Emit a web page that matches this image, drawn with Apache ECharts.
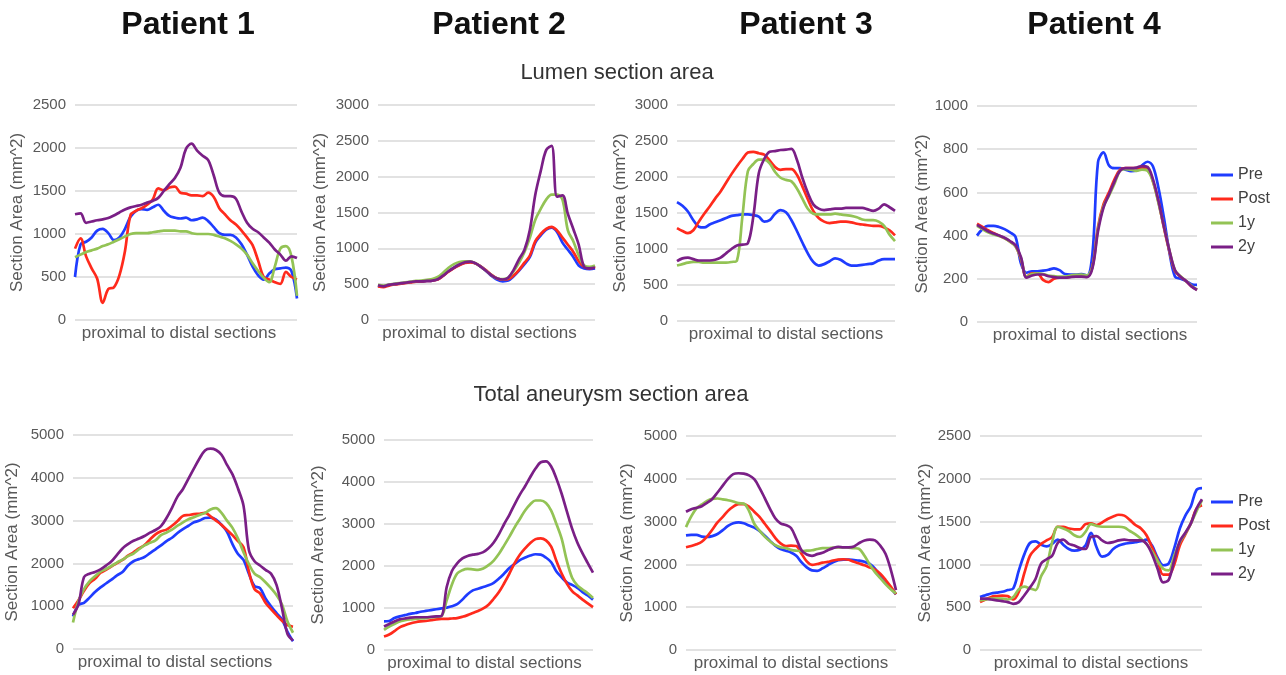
<!DOCTYPE html>
<html>
<head>
<meta charset="utf-8">
<script src="https://cdn.jsdelivr.net/npm/echarts@6/dist/echarts.min.js"></script>
<style>
  html, body { margin: 0; padding: 0; background: #ffffff; }
  #chart { width: 1286px; height: 675px; }
</style>
</head>
<body>
<div id="chart"></div>
<script>
// Section index along the vessel, proximal (1) to distal (41)
const sections = [1,2,3,4,5,6,7,8,9,10,11,12,13,14,15,16,17,18,19,20,21,22,23,24,25,26,27,28,29,30,31,32,33,34,35,36,37,38,39,40,41];

const seriesNames = ['Pre', 'Post', '1y', '2y'];
const seriesColors = ['#1f3cff', '#ff2a1c', '#93c355', '#7a1f86'];
const patientTitles = ['Patient 1', 'Patient 2', 'Patient 3', 'Patient 4'];
const rowTitles = ['Lumen section area', 'Total aneurysm section area'];
const yAxisTitle = 'Section Area (mm^2)';
const xAxisTitle = 'proximal to distal sections';

// y-axis ranges (max, tick step) per patient
const lumenMax = [2500, 3000, 3000, 1000];
const lumenStep = [500, 500, 500, 200];
const totalMax = [5000, 5000, 5000, 2500];
const totalStep = [1000, 1000, 1000, 500];

// ---- Lumen section area (mm^2) ----
const p1LumenPre  = [500,880,910,960,1040,1060,1010,930,960,1060,1200,1270,1290,1280,1310,1340,1270,1210,1190,1180,1190,1160,1170,1190,1150,1080,1010,990,990,960,880,760,620,520,470,540,590,600,610,570,250];
const p1LumenPost = [830,950,740,600,480,200,360,380,520,800,1220,1270,1300,1340,1400,1530,1510,1540,1550,1480,1470,1450,1450,1440,1480,1430,1300,1230,1160,1110,1040,960,870,690,500,470,440,420,560,500,470];
const p1Lumen1y   = [730,760,790,810,830,860,880,910,940,970,1000,1010,1010,1010,1020,1030,1040,1040,1040,1030,1030,1010,1000,1000,1000,990,970,950,920,880,830,760,660,570,490,440,620,830,860,740,280];
const p1Lumen2y   = [1230,1240,1130,1145,1160,1170,1185,1215,1250,1285,1310,1325,1340,1365,1385,1420,1500,1580,1650,1770,1990,2050,1970,1910,1860,1680,1480,1440,1440,1410,1260,1130,1060,1020,960,900,820,760,690,740,720];

const p2LumenPre  = [480,470,490,500,510,520,530,540,540,545,550,570,620,680,730,770,800,810,790,740,680,610,560,540,550,610,690,780,880,1080,1180,1260,1290,1230,1080,980,880,760,720,710,720];
const p2LumenPost = [470,460,480,495,505,515,525,535,540,545,550,565,615,675,725,765,795,805,790,745,690,625,580,565,570,620,700,800,900,1100,1200,1270,1300,1250,1150,1050,950,820,740,720,750];
const p2Lumen1y   = [490,480,495,505,515,525,535,545,550,560,570,600,660,730,780,810,820,820,790,740,680,620,580,570,590,680,800,950,1150,1400,1550,1680,1750,1750,1680,1250,1100,900,760,740,760];
const p2Lumen2y   = [485,470,490,500,510,520,530,540,540,545,550,570,620,680,730,775,805,815,790,740,680,620,580,565,590,700,850,980,1260,1750,2080,2370,2430,1720,1740,1480,1270,1050,740,720,730];

const p3LumenPre  = [1650,1600,1520,1400,1310,1300,1340,1370,1400,1430,1460,1470,1480,1480,1470,1450,1380,1400,1490,1540,1510,1400,1250,1090,940,820,770,790,830,870,850,800,770,770,780,790,800,840,860,860,860];
const p3LumenPost = [1290,1250,1220,1260,1380,1490,1590,1700,1800,1920,2040,2150,2250,2340,2350,2330,2310,2230,2140,2100,2110,2110,2030,1870,1690,1530,1430,1380,1360,1370,1380,1380,1370,1350,1340,1330,1320,1320,1300,1260,1190];
const p3Lumen1y   = [770,790,810,820,820,810,810,810,810,810,820,840,1450,2080,2180,2240,2240,2190,2070,1990,1960,1940,1840,1700,1560,1490,1480,1480,1480,1490,1480,1470,1460,1440,1410,1400,1400,1380,1320,1200,1110];
const p3Lumen2y   = [830,870,880,860,840,840,840,850,880,940,1000,1050,1060,1080,1450,2050,2250,2350,2360,2375,2380,2390,2240,1990,1780,1620,1560,1540,1550,1560,1560,1570,1570,1570,1570,1550,1530,1560,1620,1580,1530];

const p4LumenPre  = [400,430,445,445,440,430,415,395,270,228,235,235,238,242,248,240,222,220,220,222,215,320,740,785,725,712,712,705,698,700,725,742,720,620,480,320,210,200,190,175,172];
const p4LumenPost = [455,440,425,412,400,388,372,352,290,210,225,225,195,185,200,205,205,210,212,212,210,260,440,545,600,660,705,712,712,712,715,712,650,555,435,325,235,210,190,165,150];
const p4Lumen1y   = [445,430,415,405,398,388,372,350,295,210,222,225,222,215,212,210,210,215,218,220,215,255,430,535,585,640,700,708,705,700,705,700,650,550,440,330,240,212,190,168,150];
const p4Lumen2y   = [450,435,420,410,400,390,375,355,300,205,215,220,220,212,208,205,205,208,210,210,208,250,420,530,590,650,700,712,712,715,722,718,660,560,440,330,240,210,190,165,148];

// ---- Total aneurysm section area (mm^2) ----
const p1TotalPre  = [760,1030,1080,1200,1330,1440,1530,1620,1720,1800,1950,2050,2100,2150,2240,2330,2420,2520,2600,2710,2800,2880,2960,3000,3060,3070,3020,2900,2740,2450,2220,2080,1750,1470,1420,1180,1000,840,690,400,180];
const p1TotalPost = [950,1140,1360,1540,1640,1780,1850,1930,2010,2080,2180,2260,2350,2430,2560,2680,2750,2790,2880,2990,3110,3130,3150,3160,3180,3100,3000,2900,2780,2660,2520,2380,1800,1400,1300,1080,930,790,660,560,520];
const p1Total1y   = [620,1120,1400,1580,1700,1810,1870,1940,2020,2090,2170,2230,2330,2420,2480,2540,2660,2720,2790,2880,2960,3030,3080,3130,3180,3260,3290,3180,3000,2830,2580,2260,1980,1760,1680,1560,1420,1260,1040,640,380];
const p1Total2y   = [800,1050,1680,1760,1800,1860,1950,2050,2200,2350,2450,2530,2580,2640,2720,2780,2870,3060,3300,3560,3740,3980,4220,4450,4640,4680,4650,4540,4300,4080,3750,3350,2300,2050,1950,1850,1760,1500,950,350,200];

const p2TotalPre  = [680,690,760,800,830,860,880,910,930,950,970,990,1010,1040,1090,1200,1330,1420,1460,1500,1540,1600,1700,1820,1950,2050,2140,2200,2250,2280,2270,2200,2090,1870,1730,1610,1550,1480,1380,1300,1200];
const p2TotalPost = [320,370,450,540,590,630,660,680,690,710,730,740,740,750,760,790,830,880,930,990,1080,1220,1380,1590,1820,2070,2270,2420,2550,2640,2660,2610,2460,2120,1820,1580,1400,1300,1200,1110,1020];
const p2Total1y   = [480,560,620,680,710,730,740,750,760,780,790,810,1180,1560,1820,1900,1930,1920,1910,1940,2020,2130,2290,2490,2700,2920,3120,3320,3470,3560,3560,3500,3320,3000,2650,2120,1720,1540,1440,1350,1240];
const p2Total2y   = [560,620,680,730,750,770,780,780,780,790,800,810,1500,1880,2060,2180,2240,2270,2290,2330,2420,2560,2760,3000,3220,3470,3700,3900,4120,4320,4470,4490,4370,4080,3720,3300,2890,2560,2300,2070,1840];

const p3TotalPre  = [2680,2690,2690,2650,2640,2660,2710,2800,2900,2960,2980,2960,2910,2860,2780,2670,2550,2440,2360,2320,2280,2200,2050,1930,1860,1850,1910,1980,2050,2100,2110,2110,2100,2090,2060,2010,1900,1740,1580,1440,1300];
const p3TotalPost = [2400,2430,2470,2530,2650,2810,2980,3110,3250,3350,3410,3410,3350,3230,3110,2950,2790,2620,2490,2430,2440,2430,2250,2070,1990,2010,2040,2060,2090,2110,2120,2110,2060,2020,1980,1930,1880,1780,1640,1480,1300];
const p3Total1y   = [2870,3120,3310,3400,3480,3530,3540,3520,3500,3470,3430,3420,3250,2950,2790,2650,2540,2450,2400,2380,2340,2320,2310,2320,2330,2360,2380,2380,2390,2400,2400,2390,2380,2360,2200,2000,1820,1680,1540,1420,1320];
const p3Total2y   = [3230,3290,3320,3360,3440,3530,3680,3840,4000,4110,4130,4120,4080,3990,3790,3550,3300,3080,2960,2920,2850,2600,2330,2230,2200,2240,2270,2330,2380,2410,2400,2400,2420,2500,2560,2580,2560,2440,2250,1880,1400];

const p4TotalPre  = [620,640,660,670,680,700,720,930,1120,1250,1270,1230,1210,1240,1290,1230,1180,1160,1170,1220,1370,1200,1090,1110,1180,1220,1240,1250,1260,1270,1290,1220,1080,990,1010,1190,1420,1570,1680,1870,1890];
const p4TotalPost = [560,590,620,630,635,630,590,680,900,1100,1180,1240,1280,1320,1440,1440,1420,1410,1410,1470,1480,1460,1490,1530,1560,1580,1570,1520,1460,1420,1340,1200,1050,880,880,1000,1220,1350,1480,1650,1690];
const p4Total1y   = [580,590,600,600,600,590,620,710,740,720,700,860,980,1260,1440,1420,1390,1340,1320,1380,1470,1450,1440,1440,1440,1440,1430,1390,1350,1300,1240,1150,1040,950,930,1100,1260,1360,1480,1620,1750];
const p4Total2y   = [600,600,590,580,570,560,540,560,640,730,830,1010,1060,1100,1250,1290,1240,1220,1190,1180,1320,1330,1280,1250,1260,1280,1290,1280,1280,1280,1240,1120,950,790,820,1050,1270,1370,1480,1650,1760];

// Panel set-up: series data, axis range, plot box in pixels, and title offsets
const panels = [
  { values: [p1LumenPre, p1LumenPost, p1Lumen1y, p1Lumen2y], max: lumenMax[0], step: lumenStep[0], left: 75,  top: 105, width: 222, height: 215, yGap: 49, xShift: -7 },
  { values: [p2LumenPre, p2LumenPost, p2Lumen1y, p2Lumen2y], max: lumenMax[1], step: lumenStep[1], left: 378, top: 105, width: 217, height: 215, yGap: 49, xShift: -7 },
  { values: [p3LumenPre, p3LumenPost, p3Lumen1y, p3Lumen2y], max: lumenMax[2], step: lumenStep[2], left: 677, top: 105, width: 218, height: 216, yGap: 48, xShift: 0 },
  { values: [p4LumenPre, p4LumenPost, p4Lumen1y, p4Lumen2y], max: lumenMax[3], step: lumenStep[3], left: 977, top: 106, width: 220, height: 216, yGap: 45, xShift: 3 },
  { values: [p1TotalPre, p1TotalPost, p1Total1y, p1Total2y], max: totalMax[0], step: totalStep[0], left: 73,  top: 435, width: 220, height: 214, yGap: 52, xShift: -8 },
  { values: [p2TotalPre, p2TotalPost, p2Total1y, p2Total2y], max: totalMax[1], step: totalStep[1], left: 384, top: 440, width: 209, height: 210, yGap: 57, xShift: -4 },
  { values: [p3TotalPre, p3TotalPost, p3Total1y, p3Total2y], max: totalMax[2], step: totalStep[2], left: 686, top: 436, width: 210, height: 214, yGap: 50, xShift: 0 },
  { values: [p4TotalPre, p4TotalPost, p4Total1y, p4Total2y], max: totalMax[3], step: totalStep[3], left: 980, top: 436, width: 222, height: 214, yGap: 43, xShift: 0 }
];

const FONT = '"Liberation Sans", Arial, Helvetica, sans-serif';
const AXIS_TEXT = '#595959';
const GRID_LINE = '#d9d9d9';

const grids = [], xAxes = [], yAxes = [], series = [];
panels.forEach((p, i) => {
  grids.push({ left: p.left, top: p.top, width: p.width, height: p.height, containLabel: false });
  // shift the axis title sideways by padding one side
  const pad = p.xShift < 0 ? [0, -2 * p.xShift, 0, 0] : [0, 0, 0, 2 * p.xShift];
  xAxes.push({
    type: 'category', gridIndex: i, data: sections, boundaryGap: false,
    axisLine: { show: false }, axisTick: { show: false }, axisLabel: { show: false },
    splitLine: { show: false },
    name: xAxisTitle, nameLocation: 'middle', nameGap: 5,
    nameTextStyle: { color: AXIS_TEXT, fontSize: 17, fontFamily: FONT, padding: pad }
  });
  yAxes.push({
    type: 'value', gridIndex: i, min: 0, max: p.max, interval: p.step,
    axisLine: { show: false }, axisTick: { show: false },
    axisLabel: { margin: 9, color: AXIS_TEXT, fontSize: 15, fontFamily: FONT,
                 formatter: v => String(v) },
    splitLine: { show: true, lineStyle: { color: GRID_LINE, width: 1.5 } },
    name: yAxisTitle, nameLocation: 'middle', nameRotate: 90, nameGap: p.yGap,
    nameTextStyle: { color: AXIS_TEXT, fontSize: 17, fontFamily: FONT }
  });
  p.values.forEach((vals, s) => {
    series.push({
      name: seriesNames[s], type: 'line', xAxisIndex: i, yAxisIndex: i,
      data: vals, showSymbol: false, smooth: 0.35,
      lineStyle: { width: 2.7, color: seriesColors[s] },
      itemStyle: { color: seriesColors[s] },
      z: 2 + s
    });
  });
});

const legendBase = {
  data: seriesNames, orient: 'vertical', left: 1206,
  itemWidth: 22, itemHeight: 3, itemGap: 8, icon: 'rect',
  selectedMode: false,
  textStyle: { color: '#404040', fontSize: 16, lineHeight: 16, fontFamily: FONT }
};

const patientCenters = [188, 499, 806, 1094];
const graphics = patientTitles.map((t, i) => ({
  type: 'text', x: patientCenters[i], y: 25, silent: true,
  style: { text: t, textAlign: 'center', textVerticalAlign: 'middle', fill: '#111111',
           font: 'bold 32px ' + FONT }
}));
graphics.push({
  type: 'text', x: 617, y: 73, silent: true,
  style: { text: rowTitles[0], textAlign: 'center', textVerticalAlign: 'middle', fill: '#333333', font: '22px ' + FONT }
});
graphics.push({
  type: 'text', x: 611, y: 395, silent: true,
  style: { text: rowTitles[1], textAlign: 'center', textVerticalAlign: 'middle', fill: '#333333', font: '22px ' + FONT }
});

const chart = echarts.init(document.getElementById('chart'));
chart.setOption({
  backgroundColor: '#ffffff',
  animation: false,
  grid: grids,
  xAxis: xAxes,
  yAxis: yAxes,
  legend: [
    Object.assign({}, legendBase, { top: 162 }),
    Object.assign({}, legendBase, { top: 489 })
  ],
  graphic: graphics,
  series: series
});
</script>
</body>
</html>
